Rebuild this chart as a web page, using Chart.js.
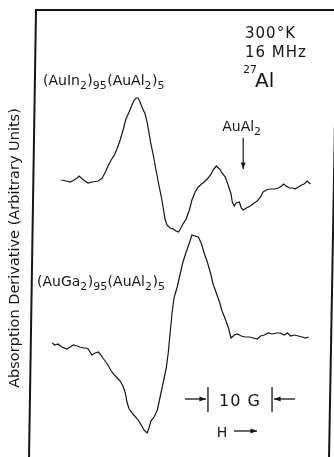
<!DOCTYPE html>
<html>
<head>
<meta charset="utf-8">
<script src="https://cdn.jsdelivr.net/npm/chart.js@4.4.1/dist/chart.umd.min.js"></script>
<style>
  html, body { margin: 0; padding: 0; background: #fff; }
  canvas { display: block; }
</style>
</head>
<body>
<canvas id="nmr" width="334" height="457"></canvas>
<script>
// field H in gauss (from left edge of frame), signal in arbitrary units
const fieldIn = [4.4, 5.2, 5.8, 6.4, 6.9, 7.2, 7.7, 8.1, 8.6, 9.2, 10.2, 10.8, 11.3, 11.7, 12.2, 12.7, 13.1, 13.6, 14.1, 14.5,
  15.0, 15.5, 15.8, 16.1, 16.4, 16.7, 17.0, 17.5, 17.8, 18.1, 18.4, 18.8, 19.1, 19.4, 19.7, 20.0, 20.3, 20.6, 20.9, 21.4,
  21.9, 22.3, 22.7, 23.0, 23.4, 23.9, 24.4, 24.8, 25.3, 25.8, 26.3, 26.7, 27.2, 27.7, 28.1, 28.6, 29.1, 29.5, 30.0, 30.5,
  30.9, 31.1, 31.4, 31.7, 32.2, 32.5, 32.8, 33.3, 33.9, 34.5, 35.0, 35.5, 35.9, 36.4, 37.0, 37.7, 38.3, 38.8, 39.1, 39.5,
  40.0, 40.5, 40.9, 41.4, 41.9, 42.3, 42.8, 43.3];
const signalIn = [277, 276, 275, 277, 279, 281, 278, 276, 274, 275, 276, 279, 285, 291, 297, 302, 308, 317, 328, 338,
  345, 353, 357, 359, 359, 355, 350, 343, 335, 324, 313, 301, 290, 280, 270, 261, 250, 238, 232, 229,
  228, 226, 225, 228, 233, 238, 247, 257, 265, 270, 273, 275, 278, 282, 287, 291, 288, 284, 280, 271,
  263, 255, 251, 254, 255, 249, 247, 249, 251, 254, 256, 260, 265, 267, 268, 268, 269, 271, 273, 271,
  269, 269, 268, 270, 272, 273, 276, 273];

const fieldGa = [3.0, 3.4, 3.9, 4.5, 5.3, 5.8, 6.3, 6.9, 7.3, 7.8, 8.3, 8.6, 8.9, 9.2, 9.7, 10.2, 10.6, 10.9, 11.6, 12.3,
  13.0, 13.6, 14.1, 14.4, 14.7, 15.0, 15.6, 16.3, 16.9, 17.3, 17.8, 18.1, 18.4, 18.9, 19.4, 19.8, 20.3, 20.8, 21.1, 21.4,
  21.7, 22.0, 22.5, 23.0, 23.4, 23.9, 24.4, 24.8, 25.3, 25.8, 26.3, 26.7, 27.2, 27.7, 28.1, 28.6, 29.1, 29.5, 30.0, 30.5,
  30.9, 31.4, 31.9, 32.5, 33.1, 33.8, 34.4, 35.0, 35.5, 36.1, 36.7, 37.3, 38.0, 38.6, 39.2, 39.7, 40.2, 40.8, 41.4, 42.0,
  42.5, 43.0];
const signalGa = [114, 112, 113, 110, 108, 110, 112, 111, 110, 109, 109, 108, 105, 102, 104, 105, 102, 99, 93, 85,
  80, 76, 70, 64, 54, 48, 43, 38, 32, 27, 24, 29, 36, 40, 47, 59, 74, 89, 104, 124,
  144, 159, 170, 184, 195, 205, 214, 222, 221, 220, 213, 204, 195, 184, 173, 164, 155, 146, 138, 129,
  119, 122, 123, 121, 120, 120, 119, 118, 121, 122, 124, 123, 124, 124, 122, 124, 121, 122, 121, 120,
  119, 120];

const alloyLabels = [
  [['(AuIn', 0], ['2', 1], [')', 0], ['95', 1], ['(AuAl', 0], ['2', 1], [')', 0], ['5', 1]],
  [['(AuGa', 0], ['2', 1], [')', 0], ['95', 1], ['(AuAl', 0], ['2', 1], [')', 0], ['5', 1]]
];
const conditions = ['300°K', '16 MHz'];
const nucleus = ['27', 'Al'];
const yTitle = 'Absorption Derivative (Arbitrary Units)';
const auAl2Field = 32.8;        // G, AuAl2 line position
const scaleBar = [27.3, 37.3];  // G, 10 G marker

const ink = '#161616';
const font = '"DejaVu Sans", sans-serif';

function drawRich(ctx, parts, x, y, size) {
    let cx = x;
    parts.forEach(([t, sub]) => {
        ctx.font = `${sub ? size * 0.78 : size}px ${font}`;
        ctx.fillText(t, cx, sub ? y + size * 0.32 : y);
        cx += ctx.measureText(t).width + (sub ? 0.5 : 0);
    });
}

function arrow(ctx, x1, y1, x2, y2, head) {
    ctx.beginPath();
    ctx.moveTo(x1, y1);
    ctx.lineTo(x2, y2);
    ctx.stroke();
    const a = Math.atan2(y2 - y1, x2 - x1);
    ctx.beginPath();
    ctx.moveTo(x2, y2);
    ctx.lineTo(x2 - head * Math.cos(a - 0.35), y2 - head * Math.sin(a - 0.35));
    ctx.lineTo(x2 - head * Math.cos(a + 0.35), y2 - head * Math.sin(a + 0.35));
    ctx.closePath();
    ctx.fill();
}

const annotations = {
    id: 'annotations',
    afterDraw: (chart) => {
        const ctx = chart.ctx;
        const area = chart.chartArea;
        const xs = chart.scales.x;
        ctx.save();
        ctx.strokeStyle = ink;
        ctx.fillStyle = ink;

        // frame (slightly skewed like the scanned original)
        ctx.lineWidth = 2;
        ctx.beginPath();
        ctx.moveTo(area.left - 4, area.bottom + 2);
        ctx.lineTo(area.left + 3, area.top);
        ctx.lineTo(area.right + 6, area.top);
        ctx.lineTo(area.right - 2, area.bottom + 2);
        ctx.stroke();

        // conditions
        ctx.textBaseline = 'alphabetic';
        ctx.textAlign = 'left';
        ctx.letterSpacing = '1px';
        ctx.font = `15px ${font}`;
        ctx.fillText(conditions[0], 245, 38);
        ctx.fillText(conditions[1], 245, 57);
        ctx.letterSpacing = '0px';
        ctx.font = `11px ${font}`;
        ctx.fillText(nucleus[0], 243, 73);
        ctx.font = `20px ${font}`;
        ctx.fillText(nucleus[1], 255, 87);

        // alloy labels
        drawRich(ctx, alloyLabels[0], 43, 85, 14);
        drawRich(ctx, alloyLabels[1], 37, 286, 14);

        // AuAl2 marker
        const ax = xs.getPixelForValue(auAl2Field);
        drawRich(ctx, [['AuAl', 0], ['2', 1]], ax - 21, 131, 14);
        ctx.lineWidth = 1.2;
        arrow(ctx, ax, 138, ax, 169, 7);

        // 10 G scale bar
        const b1 = xs.getPixelForValue(scaleBar[0]);
        const b2 = xs.getPixelForValue(scaleBar[1]);
        ctx.lineWidth = 1.3;
        ctx.beginPath();
        ctx.moveTo(b1, 387); ctx.lineTo(b1, 412);
        ctx.moveTo(b2, 387); ctx.lineTo(b2, 412);
        ctx.stroke();
        arrow(ctx, b1 - 23, 399, b1 - 2, 399, 7);
        arrow(ctx, b2 + 23, 399, b2 + 2, 399, 7);
        ctx.textAlign = 'center';
        ctx.letterSpacing = '1px';
        ctx.font = `16px ${font}`;
        ctx.fillText('10 G', (b1 + b2) / 2, 406);
        ctx.letterSpacing = '0px';
        ctx.font = `14px ${font}`;
        ctx.fillText('H', 222, 437);
        arrow(ctx, 234, 431, 257, 431, 7);

        // y title
        ctx.translate(15, 248);
        ctx.rotate(-Math.PI / 2);
        ctx.textAlign = 'center';
        ctx.textBaseline = 'middle';
        ctx.font = `14.5px ${font}`;
        ctx.fillText(yTitle, 0, 0);
        ctx.restore();
    }
};

const toPoints = (xs, ys) => xs.map((x, i) => ({ x: x, y: ys[i] }));

new Chart(document.getElementById('nmr').getContext('2d'), {
    type: 'line',
    data: {
        datasets: [
            { label: 'AuIn2', data: toPoints(fieldIn, signalIn), borderColor: ink, borderWidth: 1.2, pointRadius: 0, tension: 0 },
            { label: 'AuGa2', data: toPoints(fieldGa, signalGa), borderColor: ink, borderWidth: 1.2, pointRadius: 0, tension: 0 }
        ]
    },
    options: {
        responsive: false,
        animation: false,
        layout: { padding: { left: 33, top: 10, right: 3, bottom: 0 } },
        scales: {
            x: { type: 'linear', min: 0, max: 46.5, display: false },
            y: { type: 'linear', min: 0, max: 447, display: false }
        },
        plugins: { legend: { display: false }, tooltip: { enabled: false } }
    },
    plugins: [annotations]
});
</script>
</body>
</html>
